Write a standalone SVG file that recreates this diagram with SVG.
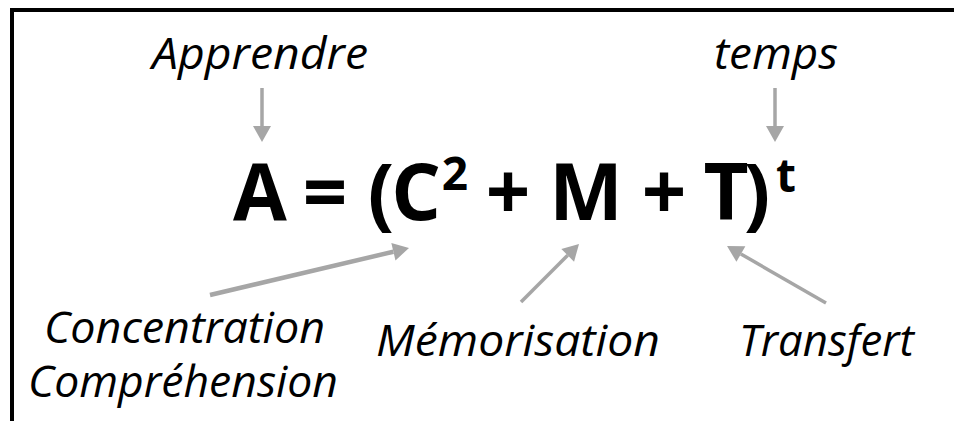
<svg xmlns="http://www.w3.org/2000/svg" width="954" height="421" viewBox="0 0 954 421">
<style>
.lbl{font-family:"Open Sans","Liberation Sans",sans-serif;font-style:italic;font-size:44px;fill:#000}
.eq{font-family:"Open Sans","Liberation Sans",sans-serif;font-weight:bold;font-size:78px;fill:#000}
.sup{font-size:46px}
.conn{stroke:#a6a6a6;stroke-width:3.5;fill:none;marker-end:url(#ah)}
</style>
<defs>
<marker id="ah" markerUnits="userSpaceOnUse" markerWidth="16" markerHeight="18" viewBox="0 0 16 18" refX="0" refY="9" orient="auto" overflow="visible">
<path d="M0,0 L16,9 L0,18 Z" fill="#a6a6a6"/>
</marker>
</defs>
<rect width="954" height="421" fill="#fff"/>
<path d="M12,421 V10 H954" fill="none" stroke="#000" stroke-width="4"/>
<g id="connectors">
<line class="conn" x1="262" y1="88" x2="262" y2="126"/>
<line class="conn" x1="775" y1="88" x2="775" y2="126"/>
<line class="conn" x1="210" y1="295" x2="393.4" y2="251.7" style="stroke-width:4.5"/>
<line class="conn" x1="521" y1="302" x2="567.7" y2="255.3"/>
<line class="conn" x1="826" y1="303" x2="740.9" y2="254"/>
</g>
<g id="equation">
<text class="eq" text-anchor="middle"><tspan x="260" y="220">A</tspan><tspan x="325" y="220">=</tspan><tspan x="381" y="220">(</tspan><tspan x="416" y="220">C</tspan><tspan class="sup" x="455" y="190">2</tspan><tspan x="508" y="220">+</tspan><tspan x="586" y="220">M</tspan><tspan x="664" y="220">+</tspan><tspan x="726" y="220">T</tspan><tspan x="757" y="220">)</tspan><tspan class="sup" x="786" y="192">t</tspan></text>
</g>
<g id="apprendre"><text class="lbl" x="152" y="69" textLength="216" lengthAdjust="spacingAndGlyphs">Apprendre</text></g>
<g id="temps"><text class="lbl" x="714" y="69" textLength="124" lengthAdjust="spacingAndGlyphs">temps</text></g>
<g id="concentration"><text class="lbl" x="44" y="343" textLength="281" lengthAdjust="spacingAndGlyphs">Concentration</text><text class="lbl" x="28" y="397" textLength="310" lengthAdjust="spacingAndGlyphs">Compréhension</text></g>
<g id="memorisation"><text class="lbl" x="376" y="356" textLength="284" lengthAdjust="spacingAndGlyphs">Mémorisation</text></g>
<g id="transfert"><text class="lbl" x="739" y="356" textLength="175" lengthAdjust="spacingAndGlyphs">Transfert</text></g>
</svg>
